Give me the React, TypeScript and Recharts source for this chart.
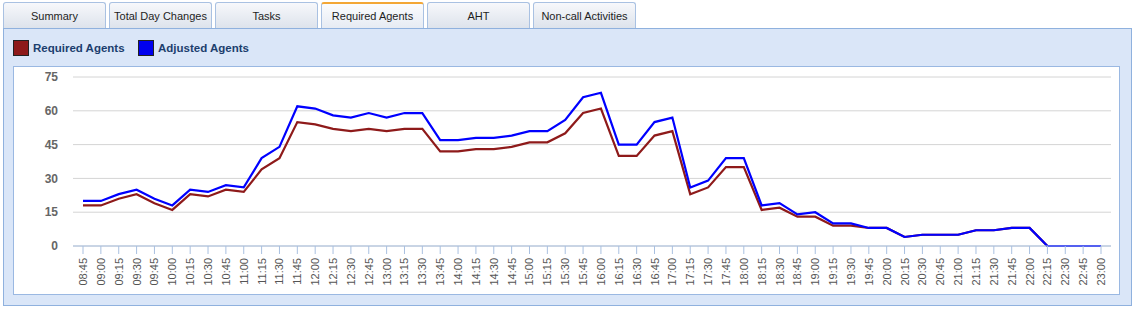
import React from "react";
import { LineChart, Line, XAxis, YAxis, CartesianGrid } from "recharts";

const times = [
  "08:45", "09:00", "09:15", "09:30", "09:45", "10:00", "10:15", "10:30", "10:45", "11:00",
  "11:15", "11:30", "11:45", "12:00", "12:15", "12:30", "12:45", "13:00", "13:15", "13:30",
  "13:45", "14:00", "14:15", "14:30", "14:45", "15:00", "15:15", "15:30", "15:45", "16:00",
  "16:15", "16:30", "16:45", "17:00", "17:15", "17:30", "17:45", "18:00", "18:15", "18:30",
  "18:45", "19:00", "19:15", "19:30", "19:45", "20:00", "20:15", "20:30", "20:45", "21:00",
  "21:15", "21:30", "21:45", "22:00", "22:15", "22:30", "22:45", "23:00",
];

const requiredAgents = [
  18, 18, 21, 23, 19, 16, 23, 22, 25, 24,
  34, 39, 55, 54, 52, 51, 52, 51, 52, 52,
  42, 42, 43, 43, 44, 46, 46, 50, 59, 61,
  40, 40, 49, 51, 23, 26, 35, 35, 16, 17,
  13, 13, 9, 9, 8, 8, 4, 5, 5, 5,
  7, 7, 8, 8, 0, 0, 0, 0,
];

const adjustedAgents = [
  20, 20, 23, 25, 21, 18, 25, 24, 27, 26,
  39, 44, 62, 61, 58, 57, 59, 57, 59, 59,
  47, 47, 48, 48, 49, 51, 51, 56, 66, 68,
  45, 45, 55, 57, 26, 29, 39, 39, 18, 19,
  14, 15, 10, 10, 8, 8, 4, 5, 5, 5,
  7, 7, 8, 8, 0, 0, 0, 0,
];

const yTicks = [0, 15, 30, 45, 60, 75];
const tabs = ["Summary", "Total Day Changes", "Tasks", "Required Agents", "AHT", "Non-call Activities"];
const activeTab = "Required Agents";

const data = times.map((t, i) => ({
  time: t,
  required: requiredAgents[i],
  adjusted: adjustedAgents[i],
}));

const font = "'Liberation Sans', Arial, sans-serif";

// rotated time labels
const TimeTick = ({ x, y, payload }: any) => (
  <g transform={`translate(${x},${y})`}>
    <text
      x={0}
      y={0}
      dy={4}
      transform="rotate(-90)"
      textAnchor="end"
      fontSize={11}
      fontFamily={font}
      fill="#555"
    >
      {payload.value}
    </text>
  </g>
);

const App: React.FC = () => {
  return (
    <div
      style={{
        position: "absolute",
        left: 0,
        top: 0,
        width: 1135,
        height: 309,
        background: "#fff",
        fontFamily: font,
        overflow: "hidden",
      }}
    >
      {/* tabs */}
      {tabs.map((t, i) => {
        const active = t === activeTab;
        return (
          <div
            key={t}
            style={{
              position: "absolute",
              left: 3 + i * 106,
              top: 2,
              width: 103,
              height: 26,
              boxSizing: "border-box",
              border: "1px solid #a9c1e2",
              borderTop: active ? "2px solid #f3a736" : "1px solid #a9c1e2",
              borderBottom: "none",
              borderRadius: "3px 3px 0 0",
              background: active
                ? "linear-gradient(#fbfcfe, #e6ebf3)"
                : "linear-gradient(#f7f8fb, #dde3ec)",
              fontSize: 11,
              color: "#1e1e1e",
              textAlign: "center",
              whiteSpace: "nowrap",
              lineHeight: active ? "25px" : "26px",
            }}
          >
            {t}
          </div>
        );
      })}

      {/* panel */}
      <div
        style={{
          position: "absolute",
          left: 3,
          top: 28,
          width: 1129,
          height: 278,
          boxSizing: "border-box",
          border: "1px solid #8fb1de",
          background: "#dae6f8",
        }}
      />

      {/* legend */}
      {[
        { label: "Required Agents", color: "#8e1a1a", left: 13 },
        { label: "Adjusted Agents", color: "#0000ee", left: 138 },
      ].map((l) => (
        <div
          key={l.label}
          style={{
            position: "absolute",
            left: l.left,
            top: 40,
            height: 16,
            display: "flex",
            alignItems: "center",
            whiteSpace: "nowrap",
          }}
        >
          <div
            style={{
              width: 16,
              height: 16,
              boxSizing: "border-box",
              background: l.color,
              border: "1px solid #222",
              marginRight: 4,
            }}
          />
          <span style={{ fontSize: 11.5, fontWeight: "bold", color: "#1c3e6e" }}>{l.label}</span>
        </div>
      ))}

      {/* chart box */}
      <div
        style={{
          position: "absolute",
          left: 13,
          top: 66,
          width: 1107,
          height: 229,
          boxSizing: "border-box",
          border: "1px solid #9ab8e2",
          background: "#fff",
        }}
      >
        <div style={{ position: "absolute", left: -1, top: -1 }}>
          <LineChart
            width={1107}
            height={229}
            data={data}
            margin={{ top: 11, right: 9, bottom: 0, left: 0 }}
          >
            <CartesianGrid vertical={false} stroke="#d4d4d4" />
            <XAxis
              dataKey="time"
              interval={0}
              padding={{ left: 10, right: 10 }}
              height={49}
              tickSize={8}
              tickMargin={4}
              stroke="#a9c0e0"
              tickLine={{ stroke: "#a9c0e0" }}
              tick={<TimeTick />}
            />
            <YAxis
              width={60}
              domain={[0, 75]}
              ticks={yTicks}
              axisLine={false}
              tickLine={false}
              tickMargin={15}
              tickSize={0}
              tick={{ fontSize: 12, fontWeight: "bold", fill: "#666", fontFamily: font }}
            />
            <Line
              type="linear"
              dataKey="required"
              stroke="#8e1a1a"
              strokeWidth={2.2}
              dot={false}
              isAnimationActive={false}
            />
            <Line
              type="linear"
              dataKey="adjusted"
              stroke="#0000ff"
              strokeWidth={2.2}
              dot={false}
              isAnimationActive={false}
            />
          </LineChart>
        </div>
      </div>
    </div>
  );
};

export default App;
